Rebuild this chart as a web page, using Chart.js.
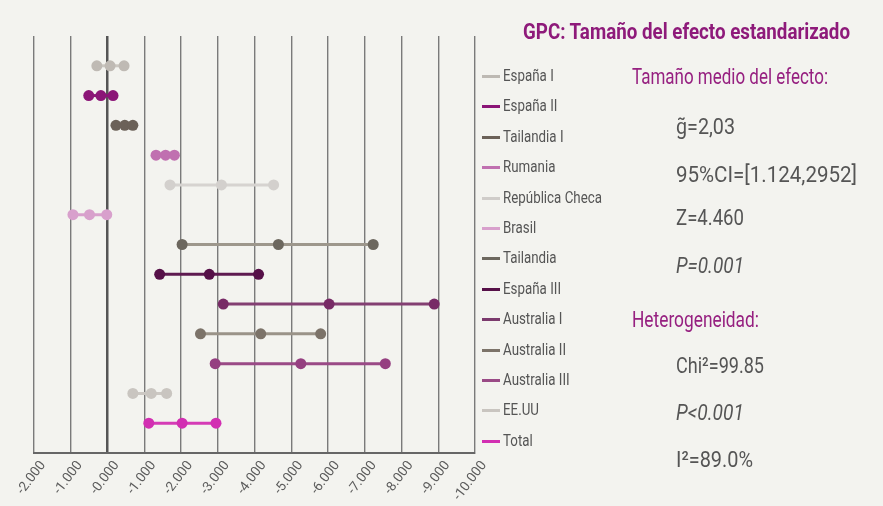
<!DOCTYPE html>
<html>
<head>
<meta charset="utf-8">
<script src="https://cdn.jsdelivr.net/npm/chart.js@4"></script>
<style>
  body { margin: 0; background: #f3f3ef; font-family: Roboto, sans-serif; }
  #wrap { position: relative; width: 883px; height: 506px; overflow: hidden; }
  #chart { position: absolute; left: 0; top: 0; }
  .leg { position: absolute; left: 482px; height: 18px; line-height: 18px; font-size: 17px; color: #555; white-space: nowrap; }
  .leg i { display: inline-block; width: 18px; height: 3px; vertical-align: middle; margin-right: 3px; }
  .leg span { display: inline-block; transform-origin: left center; }
  .txt { position: absolute; white-space: nowrap; color: #555; font-size: 22px; transform-origin: left center; }
  .head { color: #962080; }
  .it { font-style: italic; }
</style>
</head>
<body>
<div id="wrap">
  <canvas id="chart" width="883" height="506"></canvas>
  <div id="legend"></div>
  <div class="txt" data-w="327" style="left:523px;top:19px;color:#8e1a7a;font-weight:bold">GPC: Tamaño del efecto estandarizado</div>
  <div class="txt head" data-w="196" style="left:632px;top:64px">Tamaño medio del efecto:</div>
  <div class="txt" data-w="59" style="left:676px;top:114px">g̃=2,03</div>
  <div class="txt" data-w="181" style="left:676px;top:162px">95%CI=[1.124,2952]</div>
  <div class="txt" data-w="68" style="left:676px;top:205px">Z=4.460</div>
  <div class="txt it" data-w="68" style="left:676px;top:253px">P=0.001</div>
  <div class="txt head" data-w="127" style="left:632px;top:307px">Heterogeneidad:</div>
  <div class="txt" data-w="88" style="left:676px;top:353px">Chi²=99.85</div>
  <div class="txt it" data-w="68" style="left:676px;top:400px">P&lt;0.001</div>
  <div class="txt" data-w="77" style="left:676px;top:447px">I²=89.0%</div>
</div>
<script>
// estudios (de arriba a abajo)
const estudios = ['España I', 'España II', 'Tailandia I', 'Rumania', 'República Checa', 'Brasil', 'Tailandia',
                  'España III', 'Australia I', 'Australia II', 'Australia III', 'EE.UU', 'Total'];
// límite inferior, efecto, límite superior
const inferior = [-0.29, -0.51, 0.23, 1.32, 1.70, -0.94, 2.03, 1.42, 3.15, 2.53, 2.93, 0.69, 1.124];
const efecto   = [ 0.07, -0.18, 0.47, 1.58, 3.10, -0.49, 4.65, 2.77, 6.03, 4.17, 5.26, 1.19, 2.03];
const superior = [ 0.45,  0.15, 0.69, 1.82, 4.52, -0.02, 7.23, 4.11, 8.89, 5.80, 7.56, 1.61, 2.952];

const tickLabels = ['-2.000', '-1.000', '-0.000', '-1.000', '-2.000', '-3.000', '-4.000', '-5.000',
                    '-6.000', '-7.000', '-8.000', '-9.000', '-10.000'];

const colPuntos = ['#bfbab4', '#8b1577', '#6b6158', '#c070b0', '#d3d0cd', '#d8a0cc', '#6c675e',
                   '#561048', '#782a66', '#7c7369', '#953f80', '#c9c5c0', '#d22fb2'];
const colLineas = ['#cbc7c1', '#8b1577', '#6b6158', '#c070b0', '#d6d3d0', '#d8a0cc', '#9d978c',
                   '#5e1a50', '#833f72', '#9a9388', '#9a4a86', '#ccc8c3', '#d53bb6'];
const colLeyenda = ['#bdb9b3', '#8b1577', '#6b6158', '#c070b0', '#cfccc9', '#d8a0cc', '#6c675e',
                    '#561048', '#7b3a6d', '#7c7369', '#9a4a86', '#c9c5c0', '#d22fb2'];

const datasets = estudios.map((nombre, i) => ({
    label: nombre,
    data: [
        { x: inferior[i], y: i + 1 },
        { x: efecto[i], y: i + 1 },
        { x: superior[i], y: i + 1 }
    ],
    borderColor: colLineas[i],
    backgroundColor: colPuntos[i],
    pointBackgroundColor: colPuntos[i],
    pointBorderWidth: 0,
    pointRadius: 5.5,
    borderWidth: 3
}));

new Chart(document.getElementById('chart'), {
    type: 'line',
    data: { datasets: datasets },
    options: {
        responsive: false,
        animation: false,
        layout: { padding: { left: 34, right: 408, top: 36, bottom: 0 } },
        plugins: { legend: { display: false }, tooltip: { enabled: false } },
        scales: {
            x: {
                type: 'linear',
                min: -2,
                max: 10,
                afterFit: (scale) => { scale.height = 53; },
                ticks: {
                    stepSize: 1,
                    autoSkip: false,
                    minRotation: 53,
                    maxRotation: 53,
                    padding: 5,
                    labelOffset: 9,
                    color: '#5c5c5c',
                    font: { family: 'Roboto', size: 13.5 },
                    callback: (v) => tickLabels[Math.round(v) + 2]
                },
                grid: {
                    drawTicks: false,
                    color: (c) => c.tick && c.tick.value === 0 ? '#555' : '#7a7a7a',
                    lineWidth: (c) => c.tick && c.tick.value === 0 ? 2.5 : 1.4
                },
                border: { display: true, color: '#666', width: 2 }
            },
            y: { type: 'linear', min: 0, max: 14, reverse: true, display: false }
        }
    }
});

// leyenda
const leg = document.getElementById('legend');
estudios.forEach((nombre, i) => {
    leg.innerHTML += `<div class="leg" style="top:${66 + i * 30.4}px"><i style="background:${colLeyenda[i]}"></i><span>${nombre}</span></div>`;
});
// texto estrecho como en el original
const spans = [...leg.querySelectorAll('span')];
const widest = Math.max(...spans.map(s => s.getBoundingClientRect().width));
spans.forEach(s => s.style.transform = `scaleX(${99 / widest})`);
document.querySelectorAll('.txt').forEach(el => {
    const w = el.getBoundingClientRect().width;
    el.style.transform = `scaleX(${el.dataset.w / w})`;
});
</script>
</body>
</html>
